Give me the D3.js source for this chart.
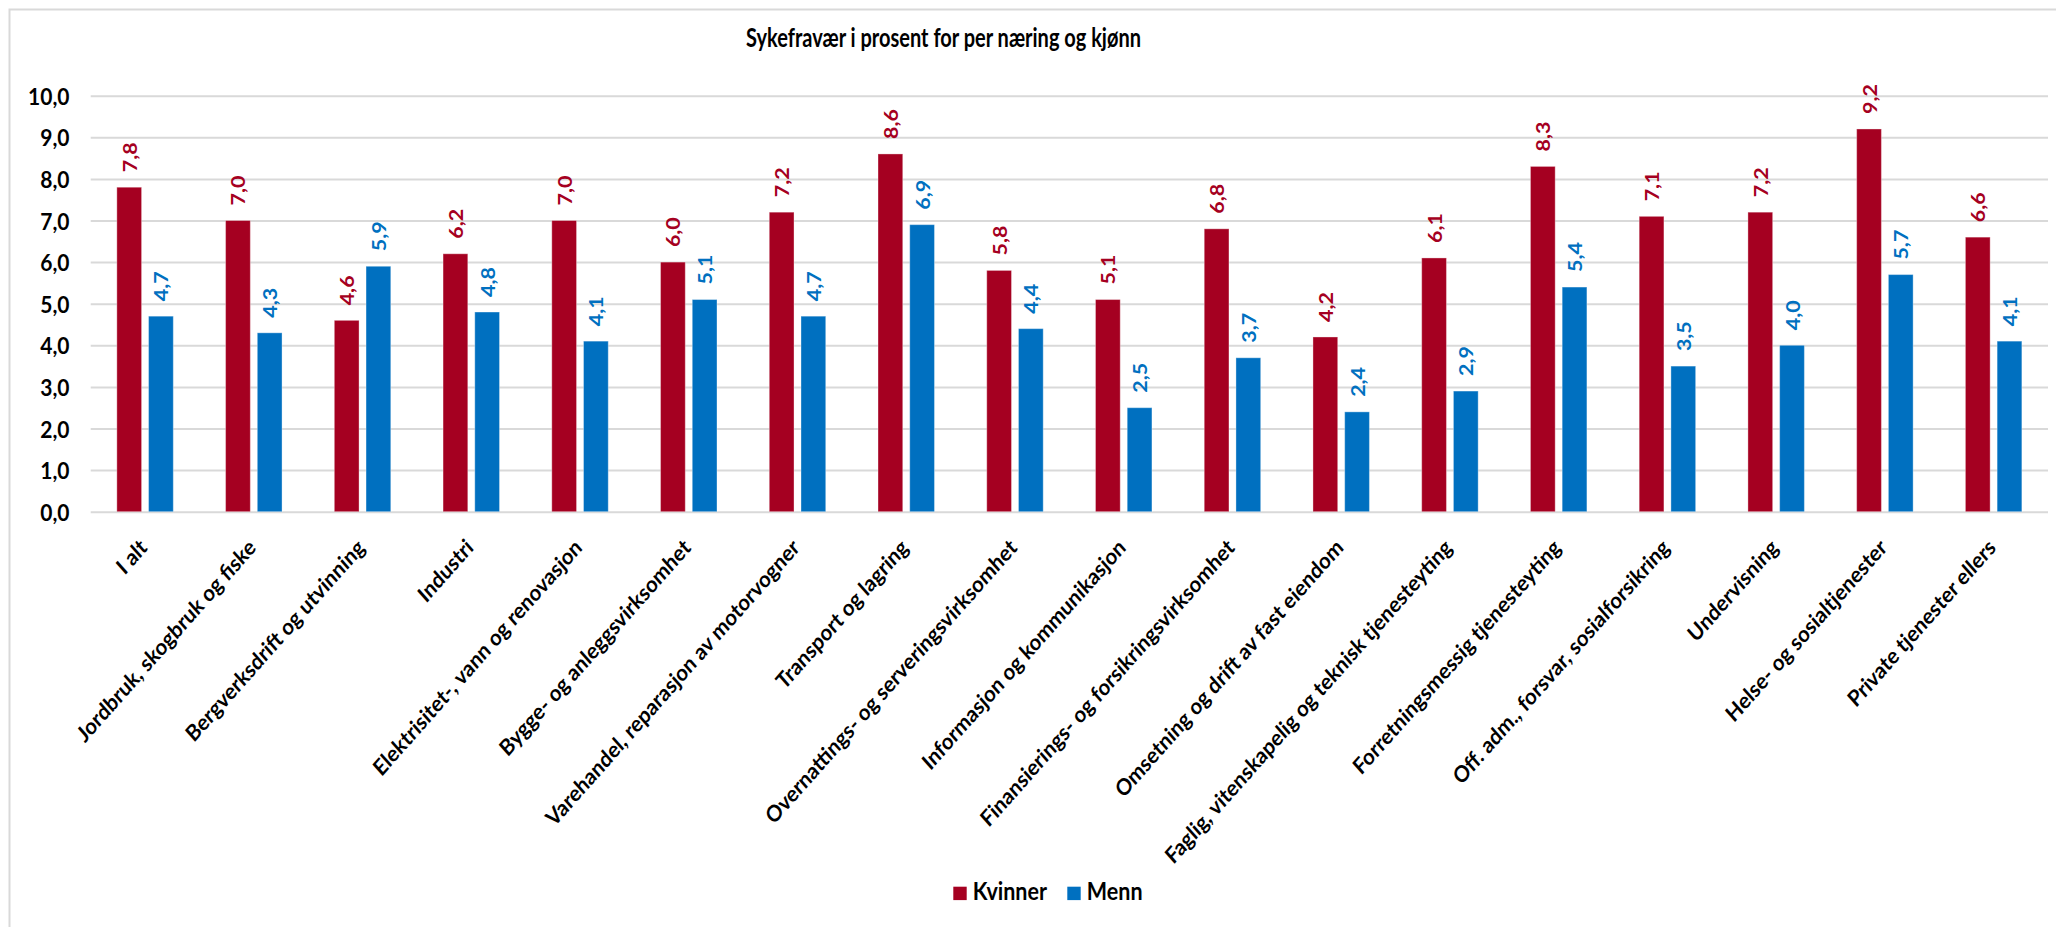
<!DOCTYPE html>
<html>
<head>
<meta charset="utf-8">
<script src="https://cdn.jsdelivr.net/npm/d3@7/dist/d3.min.js"></script>
<style>
  html, body { margin: 0; padding: 0; background: #ffffff; }
  svg { display: block; }
  text { font-family: Lato, "Open Sans", sans-serif; font-weight: 700; }
</style>
</head>
<body>
<svg id="chart" width="2056" height="927"></svg>
<script>
const title = "Sykefravær i prosent for per næring og kjønn";
const categories = [
  "I alt",
  "Jordbruk, skogbruk og fiske",
  "Bergverksdrift og utvinning",
  "Industri",
  "Elektrisitet-, vann og renovasjon",
  "Bygge- og anleggsvirksomhet",
  "Varehandel, reparasjon av motorvogner",
  "Transport og lagring",
  "Overnattings- og serveringsvirksomhet",
  "Informasjon og kommunikasjon",
  "Finansierings- og forsikringsvirksomhet",
  "Omsetning og drift av fast eiendom",
  "Faglig, vitenskapelig og teknisk tjenesteyting",
  "Forretningsmessig tjenesteyting",
  "Off. adm., forsvar, sosialforsikring",
  "Undervisning",
  "Helse- og sosialtjenester",
  "Private tjenester ellers"
];
const seriesNames = ["Kvinner", "Menn"];
const kvinner = [7.8, 7.0, 4.6, 6.2, 7.0, 6.0, 7.2, 8.6, 5.8, 5.1, 6.8, 4.2, 6.1, 8.3, 7.1, 7.2, 9.2, 6.6];
const menn    = [4.7, 4.3, 5.9, 4.8, 4.1, 5.1, 4.7, 6.9, 4.4, 2.5, 3.7, 2.4, 2.9, 5.4, 3.5, 4.0, 5.7, 4.1];
const yTicks = [0, 1, 2, 3, 4, 5, 6, 7, 8, 9, 10];
const colors = { "Kvinner": "#A50021", "Menn": "#0070C0" };

const K = 1.13; // vertical stretch of glyphs seen in the reference
const svg = d3.select("#chart");
const locale = d3.formatLocale({ decimal: ",", thousands: " ", grouping: [3], currency: ["", " kr"] });
const fmt = locale.format(".1f");

const plot = { left: 90.7, right: 2048, top: 95.7, bottom: 511.7 };

// chart frame
svg.append("rect")
  .attr("x", 9.5).attr("y", 9.5)
  .attr("width", 2100).attr("height", 1000)
  .attr("fill", "#ffffff").attr("stroke", "#d9d9d9").attr("stroke-width", 2);

const x0 = d3.scaleBand().domain(categories).range([plot.left, plot.right]).paddingInner(0).paddingOuter(0);
const x1 = d3.scaleBand().domain(seriesNames).range([0, x0.bandwidth()]).paddingInner(0.22).paddingOuter(0.824);
const y = d3.scaleLinear().domain([0, 10]).range([plot.bottom, plot.top]);

// gridlines
const yAxis = d3.axisLeft(y).tickValues(yTicks).tickSize(-(plot.right - plot.left)).tickFormat("");
const gGrid = svg.append("g").attr("transform", `translate(${plot.left},0)`).call(yAxis);
gGrid.select(".domain").remove();
gGrid.selectAll(".tick line").attr("stroke", "#d9d9d9").attr("stroke-width", 2);

// y tick labels
svg.append("g").selectAll("text").data(yTicks).join("text")
  .attr("transform", d => `translate(69.5,${y(d)}) scale(1,${K})`)
  .attr("text-anchor", "end")
  .attr("dominant-baseline", "central")
  .attr("font-size", 21)
  .attr("fill", "#000000")
  .text(d => fmt(d));

// data rows
const rows = categories.map((c, i) => ({ cat: c, vals: [
  { s: "Kvinner", v: kvinner[i] },
  { s: "Menn", v: menn[i] }
]}));

const gCat = svg.append("g").selectAll("g").data(rows).join("g")
  .attr("transform", d => `translate(${x0(d.cat)},0)`);

gCat.selectAll("rect").data(d => d.vals).join("rect")
  .attr("x", d => x1(d.s))
  .attr("y", d => y(d.v))
  .attr("width", x1.bandwidth())
  .attr("height", d => y(0) - y(d.v))
  .attr("fill", d => colors[d.s])
  .attr("stroke", "#ffffff").attr("stroke-opacity", 0.35).attr("stroke-width", 1);

gCat.selectAll("text.lbl").data(d => d.vals).join("text")
  .attr("class", "lbl")
  .attr("transform", d => `translate(${x1(d.s) + x1.bandwidth() / 2},${y(d.v) - 15}) scale(1,${K}) rotate(-90)`)
  .attr("text-anchor", "start")
  .attr("dominant-baseline", "central")
  .attr("font-size", 19)
  .attr("fill", d => colors[d.s])
  .text(d => fmt(d.v));

// x category labels
svg.append("g").selectAll("text").data(categories).join("text")
  .attr("transform", d => `translate(${x0(d) + x0.bandwidth() / 2 - 2},543) scale(1,${K}) rotate(-45)`)
  .attr("text-anchor", "end")
  .attr("dominant-baseline", "central")
  .attr("font-size", 20)
  .attr("fill", "#000000")
  .text(d => d);

// title
svg.append("text")
  .attr("transform", `translate(943.5,47) scale(1,1.3)`)
  .attr("text-anchor", "middle")
  .attr("font-size", 20)
  .attr("fill", "#000000")
  .text(title);

// legend
const legendItems = [
  { s: "Kvinner", x: 953.3 },
  { s: "Menn", x: 1067.3 }
];
const gLeg = svg.append("g").selectAll("g").data(legendItems).join("g")
  .attr("transform", d => `translate(${d.x},886.7)`);
gLeg.append("rect").attr("width", 13.4).attr("height", 13.4).attr("fill", d => colors[d.s]);
gLeg.append("text")
  .attr("transform", `translate(19.5,13.4) scale(1,${K})`)
  .attr("font-size", 21.5)
  .attr("fill", "#000000")
  .text(d => d.s);
</script>
</body>
</html>
